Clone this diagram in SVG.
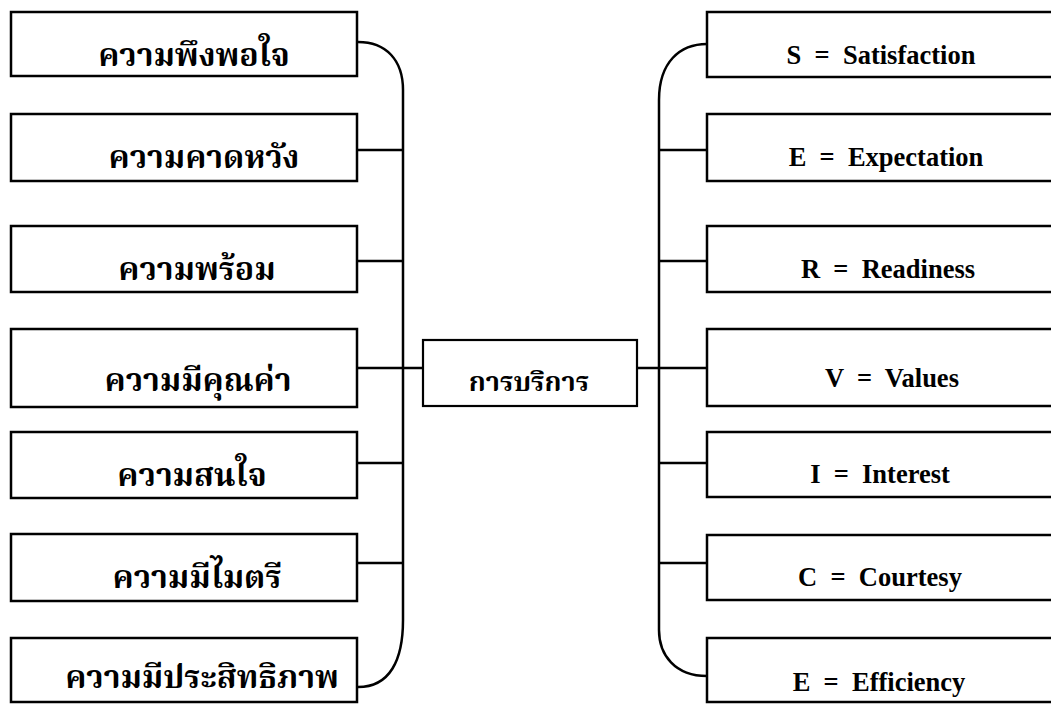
<svg xmlns="http://www.w3.org/2000/svg" width="1051" height="704" viewBox="0 0 1051 704">
<style>
.box{fill:#fff;stroke:#000;stroke-width:2.5}
.cbox{fill:#fff;stroke:#000;stroke-width:2.2}
.ln{fill:none;stroke:#000;stroke-width:2.5}
.th{font-family:"Noto Serif Thai","Noto Sans Thai","Noto Sans","DejaVu Sans",sans-serif;font-weight:bold;font-size:32px;fill:#000;text-anchor:middle}
.thc{font-family:"Noto Serif Thai","Noto Sans Thai","Noto Sans","DejaVu Sans",sans-serif;font-weight:bold;font-size:27px;fill:#000;text-anchor:middle}
.en{font-family:"Liberation Serif","Times New Roman",serif;font-weight:bold;font-size:26.5px;fill:#000;text-anchor:middle;white-space:pre}
</style>
<rect width="1051" height="704" fill="#fff"/>
<g id="connectors">
<path class="ln" d="M358,42 C386,42 403,60 403,90 L403,620 C403,660 390,687 358,687"/>
<path class="ln" d="M357,150 H403 M357,261 H403 M357,368 H423 M357,463 H403 M357,563 H403"/>
<path class="ln" d="M707,44 C680,44 659,62 659,100 L659,630 C659,655 675,676 707,676"/>
<path class="ln" d="M659,150 H707 M659,261 H707 M637,368 H707 M659,463 H707 M659,563 H707"/>
</g>
<g id="l1"><rect class="box" x="11" y="12" width="346" height="64"/><text class="th" x="194" y="66">ความพึงพอใจ</text></g>
<g id="l2"><rect class="box" x="11" y="114" width="346" height="67"/><text class="th" x="204" y="168">ความคาดหวัง</text></g>
<g id="l3"><rect class="box" x="11" y="226" width="346" height="66"/><text class="th" x="197" y="280">ความพร้อม</text></g>
<g id="l4"><rect class="box" x="11" y="329" width="346" height="78"/><text class="th" x="198" y="391">ความมีคุณค่า</text></g>
<g id="l5"><rect class="box" x="11" y="432" width="346" height="66"/><text class="th" x="192" y="486">ความสนใจ</text></g>
<g id="l6"><rect class="box" x="11" y="534" width="346" height="67"/><text class="th" x="197" y="588">ความมีไมตรี</text></g>
<g id="l7"><rect class="box" x="11" y="638" width="346" height="64"/><text class="th" x="202" y="688">ความมีประสิทธิภาพ</text></g>
<g id="center"><rect class="cbox" x="423" y="340" width="214" height="66"/><text class="thc" x="529" y="391">การบริการ</text></g>
<g id="r1"><rect class="box" x="707" y="12" width="350" height="65"/><text class="en" x="881" y="64">S  =  Satisfaction</text></g>
<g id="r2"><rect class="box" x="707" y="114" width="350" height="67"/><text class="en" x="886" y="166">E  =  Expectation</text></g>
<g id="r3"><rect class="box" x="707" y="226" width="350" height="66"/><text class="en" x="888" y="278">R  =  Readiness</text></g>
<g id="r4"><rect class="box" x="707" y="329" width="350" height="77"/><text class="en" x="892" y="387">V  =  Values</text></g>
<g id="r5"><rect class="box" x="707" y="432" width="350" height="65"/><text class="en" x="880" y="483">I  =  Interest</text></g>
<g id="r6"><rect class="box" x="707" y="535" width="350" height="65"/><text class="en" x="880" y="586">C  =  Courtesy</text></g>
<g id="r7"><rect class="box" x="707" y="638" width="350" height="64"/><text class="en" x="879" y="691">E  =  Efficiency</text></g>
</svg>
